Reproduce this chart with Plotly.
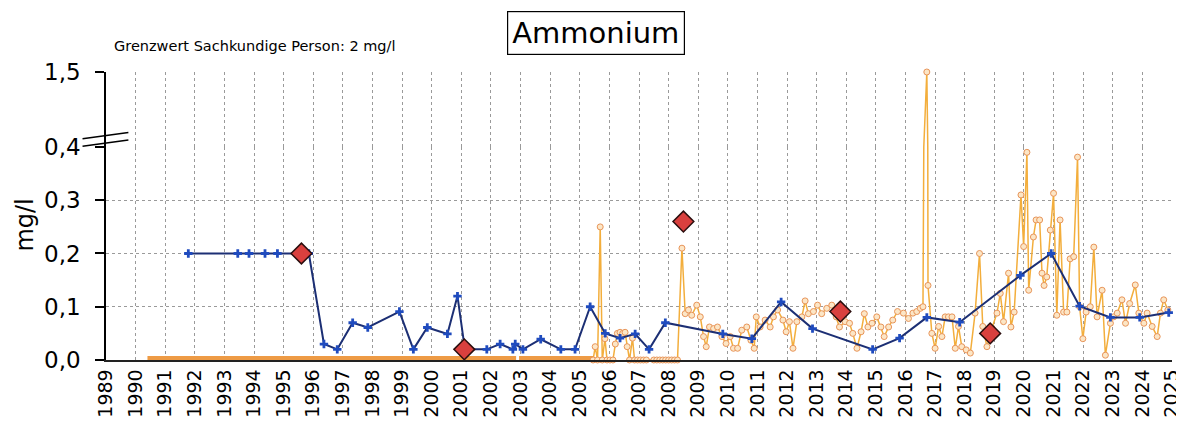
import plotly.graph_objects as go
from plotly.subplots import make_subplots

# ---------------- data ----------------
years = list(range(1989, 2026))
year_labels = [str(y) for y in years]

# Blue series (yearly samples)
blue_x = [1991.78, 1993.45, 1993.83, 1994.37, 1994.79, 1995.85, 1996.36, 1996.81,
          1997.33, 1997.84, 1998.91, 1999.38, 1999.85, 2000.53, 2000.87, 2001.12,
          2001.86, 2002.31, 2002.74, 2002.82, 2003.08, 2003.68, 2004.36, 2004.84,
          2005.35, 2005.86, 2006.36, 2006.87, 2007.34, 2007.89, 2009.83, 2010.81,
          2011.80, 2012.86, 2014.89, 2015.80, 2016.72, 2017.83, 2019.88, 2020.92,
          2021.88, 2022.92, 2023.91, 2024.89]
blue_y = [0.20, 0.20, 0.20, 0.20, 0.20, 0.20, 0.030, 0.020,
          0.070, 0.061, 0.091, 0.020, 0.061, 0.049, 0.120, 0.020,
          0.020, 0.030, 0.020, 0.030, 0.020, 0.039, 0.020, 0.020,
          0.100, 0.050, 0.041, 0.049, 0.020, 0.070, 0.049, 0.040,
          0.109, 0.059, 0.020, 0.041, 0.080, 0.071, 0.159, 0.200,
          0.101, 0.080, 0.080, 0.089]

# Red diamonds
red_x = [1995.60, 2001.10, 2008.50, 2013.80, 2018.86]
red_y = [0.20, 0.02, 0.26, 0.091, 0.05]

# Orange baseline (values at 0, densely sampled)
base_x = [1990.40, 2002.85, None, 2002.95, 2005.45]
base_y = [0, 0, None, 0, 0]

# Orange series (dense samples)
orange_x = [2005.45, 2005.52, 2005.60, 2005.69, 2005.76, 2005.85, 2005.92, 2006.02,
            2006.12, 2006.20, 2006.27, 2006.36, 2006.45, 2006.53, 2006.60, 2006.68,
            2006.78, 2006.85, 2006.95, 2007.05, 2007.15, 2007.25, 2007.50, 2007.60,
            2007.70, 2007.80, 2007.90, 2008.00, 2008.10, 2008.20, 2008.30,
            2008.45, 2008.56, 2008.67, 2008.78, 2008.95, 2009.07, 2009.18, 2009.27,
            2009.38, 2009.52, 2009.65, 2009.80, 2009.94, 2010.08, 2010.19, 2010.33,
            2010.47, 2010.64, 2010.78, 2010.89, 2010.96, 2011.09, 2011.26, 2011.43,
            2011.54, 2011.68, 2011.86, 2011.97, 2012.08, 2012.20, 2012.33, 2012.50,
            2012.61, 2012.72, 2012.89, 2013.03, 2013.17, 2013.34, 2013.51, 2013.66,
            2013.77, 2013.96, 2014.11, 2014.22, 2014.36, 2014.50, 2014.61, 2014.73,
            2014.87, 2015.03, 2015.17, 2015.28, 2015.43, 2015.57, 2015.73,
            2015.93, 2016.10, 2016.25, 2016.38, 2016.50, 2016.59, 2016.72, 2016.76,
            2016.89, 2017.00, 2017.12, 2017.23, 2017.34, 2017.45, 2017.57, 2017.68,
            2017.79, 2017.90, 2018.05, 2018.19, 2018.35, 2018.50, 2018.61, 2018.75,
            2018.92, 2019.09, 2019.20, 2019.31, 2019.48, 2019.56, 2019.67, 2019.90,
            2019.99, 2020.10, 2020.16, 2020.32, 2020.41, 2020.53, 2020.61, 2020.68,
            2020.77, 2020.89, 2021.00, 2021.11, 2021.22, 2021.34, 2021.45, 2021.56,
            2021.68, 2021.81, 2021.88, 2021.99, 2022.10, 2022.24, 2022.36, 2022.47,
            2022.64, 2022.75, 2022.92, 2023.03, 2023.15, 2023.31, 2023.43, 2023.57,
            2023.76, 2023.88, 2024.05, 2024.16, 2024.33, 2024.50, 2024.61, 2024.72,
            2024.86]
orange_y = [0.0, 0.025, 0.0, 0.25, 0.0, 0.04, 0.0, 0.0,
            0.0, 0.03, 0.05, 0.052, 0.05, 0.052, 0.025, 0.0,
            0.041, 0.0, 0.0, 0.0, 0.0, 0.0, 0.0, 0.0,
            0.0, 0.0, 0.0, 0.0, 0.0, 0.0, 0.0,
            0.21, 0.087, 0.094, 0.084, 0.103, 0.081, 0.044, 0.025,
            0.062, 0.059, 0.062, 0.044, 0.031, 0.044, 0.022, 0.022,
            0.056, 0.062, 0.037, 0.022, 0.081, 0.062, 0.075, 0.062,
            0.081, 0.094, 0.075, 0.053, 0.072, 0.022, 0.072, 0.081,
            0.111, 0.087, 0.091, 0.103, 0.087, 0.097, 0.103, 0.081,
            0.062, 0.072, 0.069, 0.050, 0.022, 0.053, 0.087, 0.062,
            0.069, 0.081, 0.062, 0.044, 0.062, 0.075, 0.091,
            0.088, 0.078, 0.088, 0.091, 0.097, 0.100, 1.50, 0.14,
            0.050, 0.022, 0.063, 0.044, 0.081, 0.081, 0.081, 0.022,
            0.063, 0.025, 0.019, 0.013, 0.088, 0.20, 0.063, 0.025,
            0.060, 0.088, 0.125, 0.072, 0.163, 0.062, 0.090, 0.31,
            0.213, 0.39, 0.131, 0.231, 0.263, 0.263, 0.163, 0.140,
            0.156, 0.244, 0.313, 0.084, 0.263, 0.090, 0.090, 0.190,
            0.194, 0.381, 0.100, 0.040, 0.090, 0.100, 0.212, 0.081,
            0.131, 0.009, 0.069, 0.081, 0.088, 0.113, 0.069, 0.106,
            0.141, 0.088, 0.069, 0.088, 0.063, 0.044, 0.088, 0.113,
            0.094]

low_ticks = [0.0, 0.1, 0.2, 0.3, 0.4]
low_tick_text = ["0,0", "0,1", "0,2", "0,3", "0,4"]
high_ticks = [1.5]
high_tick_text = ["1,5"]
LOW_RANGE = [0, 0.4]
HIGH_RANGE = [0.4, 1.5]

# ---------------- styles ----------------
FONT = "DejaVu Sans"
ORANGE_LINE = "#F3AE3C"
ORANGE_MARK = "#E8955A"
ORANGE_BASE = "#EE9B45"
BLUE_LINE = "#1C2F74"
BLUE_MARK = "#1F4BBE"
RED = "#D9403E"
GRID = "#9A9A9A"

fig = make_subplots(rows=2, cols=1, shared_xaxes=True, vertical_spacing=0,
                    row_heights=[0.2604, 0.7396])

# upper (broken) part: lines only, plus markers above the break
fig.add_trace(go.Scatter(x=orange_x, y=orange_y, mode="lines",
                         line=dict(color=ORANGE_LINE, width=1.5),
                         hoverinfo="skip", showlegend=False), row=1, col=1)
hi_x = [x for x, y in zip(orange_x, orange_y) if y > HIGH_RANGE[0]]
hi_y = [y for y in orange_y if y > HIGH_RANGE[0]]
fig.add_trace(go.Scatter(x=hi_x, y=hi_y, mode="markers", cliponaxis=False,
                         marker=dict(symbol="circle", size=6, color="#FCE6C6",
                                     line=dict(color=ORANGE_MARK, width=1)),
                         showlegend=False), row=1, col=1)

# lower part
fig.add_trace(go.Scatter(x=base_x, y=base_y, mode="lines",
                         line=dict(color=ORANGE_BASE, width=8),
                         hoverinfo="skip", showlegend=False), row=2, col=1)
fig.add_trace(go.Scatter(x=orange_x, y=orange_y, mode="lines+markers",
                         cliponaxis=False,
                         line=dict(color=ORANGE_LINE, width=1.5),
                         marker=dict(symbol="circle", size=6, color="#FCE6C6",
                                     line=dict(color=ORANGE_MARK, width=1)),
                         showlegend=False), row=2, col=1)
fig.add_trace(go.Scatter(x=blue_x, y=blue_y, mode="lines+markers",
                         cliponaxis=False,
                         line=dict(color=BLUE_LINE, width=2),
                         marker=dict(symbol="cross", size=7, color=BLUE_MARK),
                         showlegend=False), row=2, col=1)
fig.add_trace(go.Scatter(x=red_x, y=red_y, mode="markers", cliponaxis=False,
                         marker=dict(symbol="diamond", size=16, color=RED,
                                     line=dict(color="#2B0E0E", width=1.5)),
                         showlegend=False), row=2, col=1)

common_x = dict(range=[1989, 2025], tickmode="array", tickvals=years,
                showgrid=True, gridcolor=GRID, griddash="dot", gridwidth=1,
                zeroline=False, automargin=False)
fig.update_xaxes(**common_x, showticklabels=False, showline=False, row=1, col=1)
fig.update_xaxes(**common_x, ticktext=year_labels, tickangle=-90,
                 tickfont=dict(family=FONT, size=19, color="black"),
                 showline=True, linecolor="#222", linewidth=1.5, ticks="",
                 row=2, col=1)

common_y = dict(showgrid=True, gridcolor=GRID, griddash="dot", gridwidth=1,
                zeroline=False, showline=True, linecolor="black", linewidth=1.5,
                ticks="outside", ticklen=9, tickcolor="black", tickwidth=1.5,
                tickfont=dict(family=FONT, size=23, color="black"),
                ticklabelstandoff=10, automargin=False)
fig.update_yaxes(**common_y, range=HIGH_RANGE, tickmode="array",
                 tickvals=high_ticks, ticktext=high_tick_text, row=1, col=1)
fig.update_yaxes(**common_y, range=LOW_RANGE, tickmode="array",
                 tickvals=low_ticks, ticktext=low_tick_text, row=2, col=1)

# axis break marks
for dy in (0.0, 0.026):
    fig.add_shape(type="line", xref="paper", yref="paper",
                  x0=-0.022, x1=0.021, y0=0.742 + dy, y1=0.764 + dy,
                  line=dict(color="black", width=1.5))

fig.add_annotation(text="Ammonium", xref="paper", yref="paper",
                   x=0.4597, y=1.135, xanchor="center", yanchor="middle",
                   showarrow=False, font=dict(family=FONT, size=29, color="black"),
                   bordercolor="black", borderwidth=1.2, borderpad=4,
                   bgcolor="white")
fig.add_annotation(text="Grenzwert Sachkundige Person: 2 mg/l", xref="paper",
                   yref="paper", x=0.006, y=1.09, xanchor="left", yanchor="middle",
                   showarrow=False, font=dict(family=FONT, size=14.5, color="black"))
fig.add_annotation(text="mg/l", xref="paper", yref="paper", x=-0.076, y=0.47,
                   xanchor="center", yanchor="middle", textangle=-90,
                   showarrow=False, font=dict(family=FONT, size=24, color="black"))

# page body adds an 8px offset; size the figure so the plot lands where the reference has it
fig.update_layout(width=1176, height=417, plot_bgcolor="white",
                  paper_bgcolor="white",
                  margin=dict(l=98, r=12, t=64, b=65), showlegend=False)

fig.write_html("out.html")
